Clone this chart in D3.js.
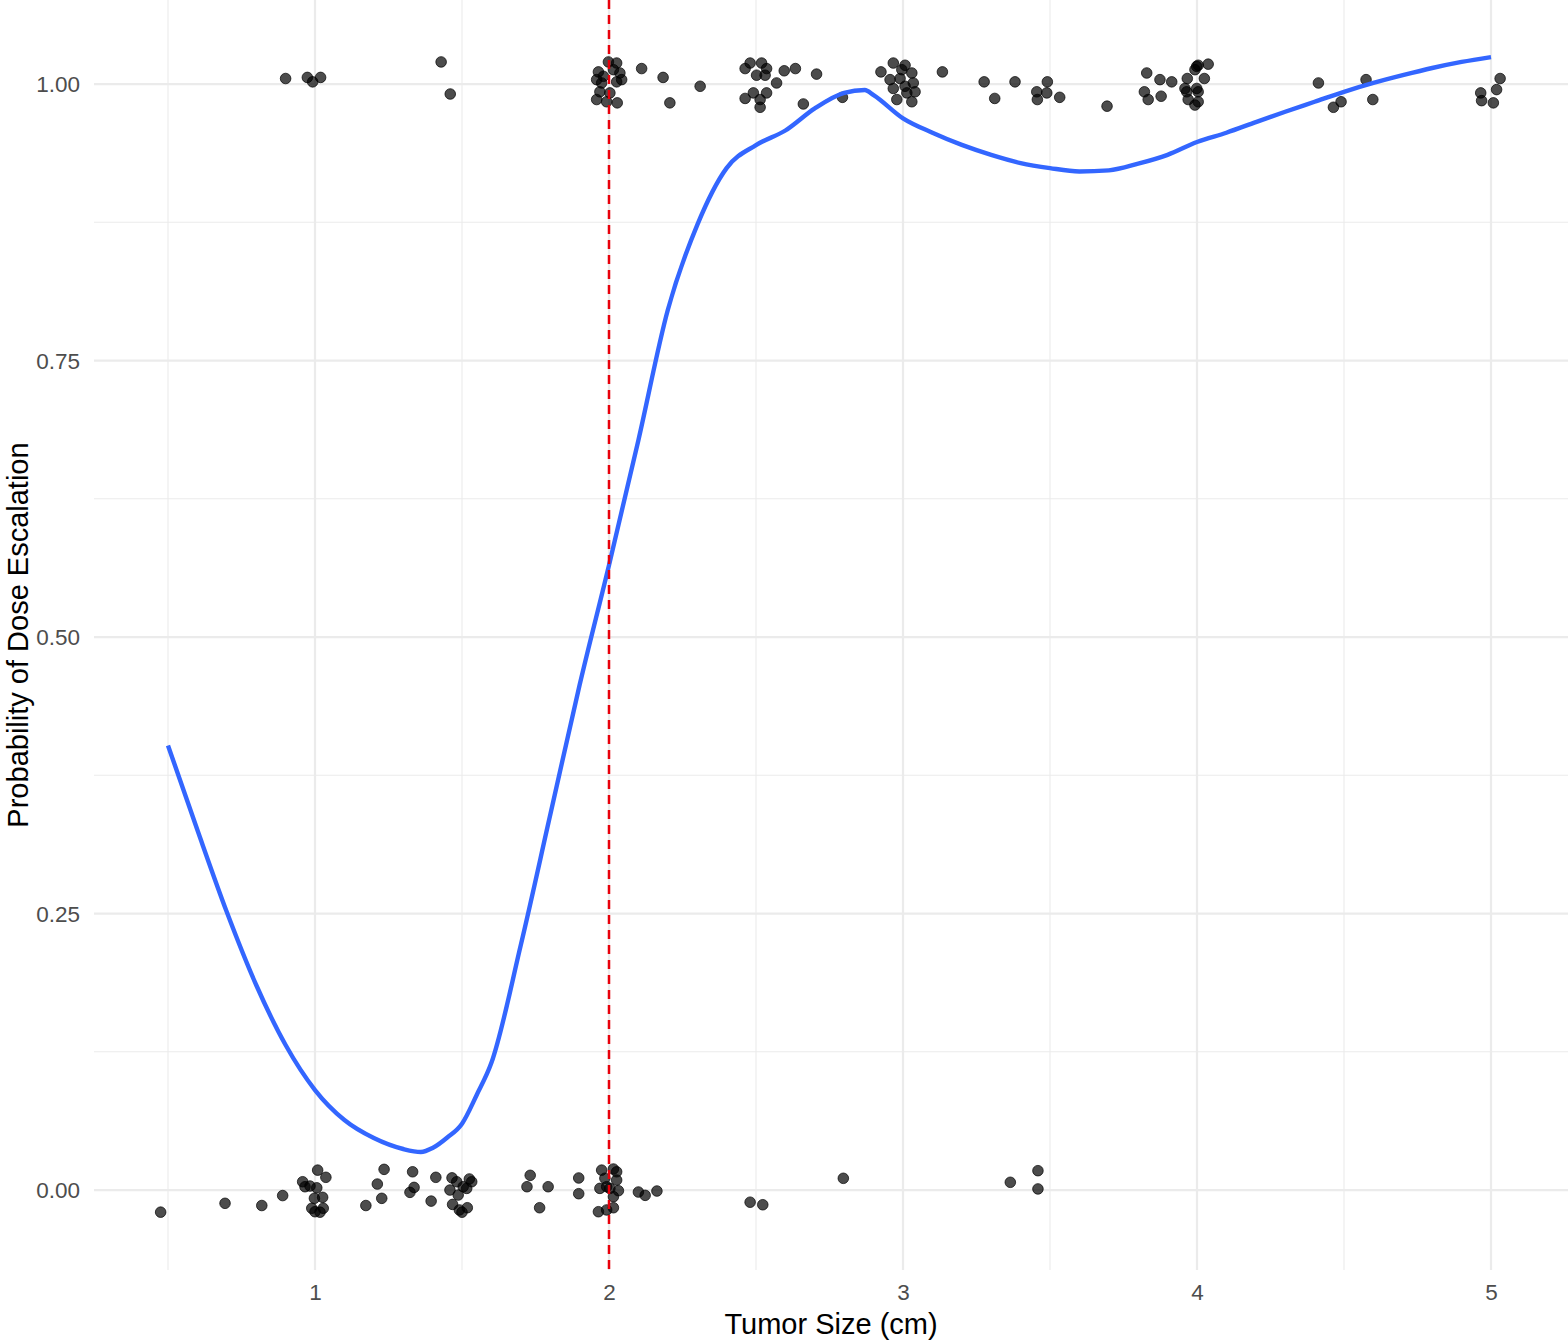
<!DOCTYPE html>
<html>
<head>
<meta charset="utf-8">
<script src="https://cdn.jsdelivr.net/npm/d3@7"></script>
<style>
  html, body { margin: 0; padding: 0; background: #fff; }
  svg { display: block; }
  text { font-family: "Liberation Sans", Arial, Helvetica, sans-serif; }
</style>
</head>
<body>
<svg id="chart" width="1568" height="1341"></svg>
<script>
// ---------- DATA ----------
// Jittered observations: tumor size (cm) and escalation outcome (0/1, jittered)
const escalatedX = [0.900,0.974,0.992,1.019,1.429,1.460,
  1.998,2.026,2.037,1.964,1.958,1.975,2.026,2.043,1.969,2.003,1.958,1.992,2.028,2.015,1.981,
  2.111,2.184,2.207,2.310,
  2.480,2.519,2.463,2.536,2.502,2.531,2.491,2.463,2.514,2.536,2.514,2.570,
  2.596,2.634,2.706,2.661,2.794,2.925,
  2.967,3.007,3.030,2.956,2.990,3.035,2.967,3.007,3.041,2.979,3.030,3.013,2.996,
  3.134,3.276,3.381,3.312,3.491,3.455,3.489,3.457,3.533,3.694,
  3.829,3.874,3.914,3.821,3.834,3.878,
  4.004,4.038,3.993,3.967,4.025,3.959,3.999,3.965,4.004,3.970,4.004,3.993,3.999,
  4.413,4.575,4.464,4.490,4.598,4.965,4.968,5.008,5.019,5.031];
const escalatedY = [1.005,1.006,1.002,1.006,1.020,0.991,
  1.020,1.019,1.010,1.011,1.004,1.001,1.002,1.004,0.993,0.992,0.986,0.984,0.983,1.013,1.007,
  1.014,1.006,0.983,0.998,
  1.019,1.019,1.014,1.014,1.008,1.008,0.992,0.987,0.986,0.992,0.979,1.001,
  1.012,1.014,1.009,0.982,0.988,1.011,
  1.019,1.017,1.010,1.004,1.005,1.001,0.996,0.998,0.993,0.986,0.984,0.992,1.013,
  1.011,1.002,1.002,0.987,1.002,0.993,0.992,0.986,0.988,0.980,
  1.010,1.004,1.002,0.993,0.986,0.989,
  1.017,1.018,1.013,1.005,1.005,0.996,0.996,0.993,0.993,0.986,0.984,0.981,1.016,
  1.001,1.004,0.979,0.984,0.986,0.992,0.985,0.983,0.995,1.005];

const notEscalatedX = [0.475,0.694,0.819,0.890,
  0.958,0.966,1.006,1.009,1.037,0.998,1.026,0.989,1.000,1.028,1.017,0.983,
  1.173,1.227,1.212,1.235,1.332,1.337,1.323,1.395,1.411,
  1.466,1.459,1.468,1.491,1.518,1.504,1.525,1.533,1.482,1.487,1.516,1.500,
  1.732,1.721,1.793,1.764,1.897,1.897,
  1.975,2.015,2.026,1.969,1.992,2.026,2.032,2.015,1.964,1.992,2.015,2.003,1.986,
  2.100,2.123,2.163,2.480,2.523,2.797,3.365,3.459,3.459];
const notEscalatedY = [-0.020,-0.012,-0.014,-0.005,
  0.0075,0.003,0.002,0.018,0.0115,-0.0075,-0.0066,-0.0165,-0.0196,-0.0165,-0.020,0.0036,
  -0.014,-0.0075,0.0054,0.0187,0.0165,0.0024,-0.0021,-0.010,0.0115,
  0.011,0.000,-0.013,-0.018,-0.016,0.003,0.010,0.0075,0.0075,-0.0045,0.0015,-0.020,
  0.0133,0.003,0.003,-0.016,0.0109,-0.0033,
  0.018,0.019,0.0165,0.0015,0.003,0.009,-0.0006,-0.006,-0.0196,-0.018,-0.016,0.0015,0.0106,
  -0.0018,-0.0048,-0.0009,-0.011,-0.0133,0.0106,0.007,0.0175,0.001];

// Smoothed probability curve
const smoothX = [0.5,0.6,0.7,0.8,0.9,1.0,1.1,1.2,1.3,1.36,1.4,1.45,1.5,1.55,1.6,1.7,1.8,1.9,2.0,2.1,2.2,2.3,2.4,2.5,2.6,2.7,2.8,2.87,2.9,3.0,3.1,3.2,3.3,3.4,3.5,3.6,3.7,3.8,3.9,4.0,4.1,4.2,4.3,4.4,4.5,4.6,4.7,4.8,4.9,5.0];
const smoothY = [0.402,0.3255,0.2514,0.1854,0.1311,0.0904,0.0633,0.047,0.0371,0.0344,0.0380,0.0475,0.0600,0.0860,0.1150,0.2215,0.339,0.4566,0.565,0.678,0.7957,0.8725,0.924,0.9448,0.958,0.978,0.992,0.9946,0.990,0.969,0.956,0.945,0.936,0.9286,0.924,0.921,0.922,0.928,0.936,0.9476,0.956,0.9656,0.975,0.984,0.993,1.001,1.008,1.0145,1.020,1.0244];

const thresholdX = [2];

const xTicks = [1,2,3,4,5];
const xMinor = [0.5,1.5,2.5,3.5,4.5];
const yTicks = [0,0.25,0.5,0.75,1];
const yMinor = [0.125,0.375,0.625,0.875];
const yTickLabels = ["0.00","0.25","0.50","0.75","1.00"];

const xTitle = "Tumor Size (cm)";
const yTitle = "Probability of Dose Escalation";

// ---------- LAYOUT ----------
const W = 1568, H = 1341;
const panel = {left: 94, right: 1568, top: 0, bottom: 1270};

const x = d3.scaleLinear().domain([0.2483, 5.2619]).range([panel.left, panel.right]);
const y = d3.scaleLinear().domain([-0.0723, 1.0760]).range([panel.bottom, panel.top]);

const svg = d3.select("#chart");
svg.append("rect").attr("width", W).attr("height", H).attr("fill", "#fff");

const grid = svg.append("g");
// minor grid
grid.selectAll("line.ymin").data(yMinor).join("line")
  .attr("x1", panel.left).attr("x2", panel.right)
  .attr("y1", d => y(d)).attr("y2", d => y(d))
  .attr("stroke", "#EBEBEB").attr("stroke-width", 1.1);
grid.selectAll("line.xmin").data(xMinor).join("line")
  .attr("y1", panel.top).attr("y2", panel.bottom)
  .attr("x1", d => x(d)).attr("x2", d => x(d))
  .attr("stroke", "#EBEBEB").attr("stroke-width", 1.1);
// major grid
grid.selectAll("line.ymaj").data(yTicks).join("line")
  .attr("x1", panel.left).attr("x2", panel.right)
  .attr("y1", d => y(d)).attr("y2", d => y(d))
  .attr("stroke", "#EBEBEB").attr("stroke-width", 2.2);
grid.selectAll("line.xmaj").data(xTicks).join("line")
  .attr("y1", panel.top).attr("y2", panel.bottom)
  .attr("x1", d => x(d)).attr("x2", d => x(d))
  .attr("stroke", "#EBEBEB").attr("stroke-width", 2.2);

// axes (labels only, theme_minimal has no axis lines/ticks)
const xAxis = d3.axisBottom(x).tickValues(xTicks).tickFormat(d3.format("d")).tickSize(0).tickPadding(0);
const gx = svg.append("g").attr("transform", `translate(0,${panel.bottom})`).call(xAxis);
gx.select(".domain").remove();
gx.selectAll("text").attr("fill", "#4D4D4D").attr("font-size", 22.5)
  .attr("dy", null).attr("y", 30)
  .style("font-family", '"Liberation Sans", Arial, sans-serif');

const yAxis = d3.axisLeft(y).tickValues(yTicks).tickFormat((d, i) => yTickLabels[i]).tickSize(0).tickPadding(0);
const gy = svg.append("g").attr("transform", `translate(${panel.left - 14},0)`).call(yAxis);
gy.select(".domain").remove();
gy.selectAll("text").attr("fill", "#4D4D4D").attr("font-size", 22.5)
  .attr("dy", "0.35em")
  .style("font-family", '"Liberation Sans", Arial, sans-serif');

// points
const pts = [];
escalatedX.forEach((v, i) => pts.push({x: v, y: escalatedY[i]}));
notEscalatedX.forEach((v, i) => pts.push({x: v, y: notEscalatedY[i]}));
svg.append("g").selectAll("circle").data(pts).join("circle")
  .attr("cx", d => x(d.x)).attr("cy", d => y(d.y)).attr("r", 5.3)
  .attr("fill", "#000").attr("fill-opacity", 0.7)
  .attr("stroke", "#000").attr("stroke-opacity", 0.7).attr("stroke-width", 1);

// smooth curve
const curve = smoothX.map((v, i) => [v, smoothY[i]]);
svg.append("path").datum(curve)
  .attr("d", d3.line().x(d => x(d[0])).y(d => y(d[1])).curve(d3.curveMonotoneX))
  .attr("fill", "none").attr("stroke", "#3366FF").attr("stroke-width", 4.4)
  .attr("stroke-linejoin", "round");

// threshold line
svg.append("g").selectAll("line").data(thresholdX).join("line")
  .attr("x1", d => x(d)).attr("x2", d => x(d))
  .attr("y1", panel.top).attr("y2", panel.bottom)
  .attr("stroke", "#E8000B").attr("stroke-width", 2.5)
  .attr("stroke-dasharray", "9,6");

// titles
svg.append("text").attr("x", (panel.left + panel.right) / 2).attr("y", 1334)
  .attr("text-anchor", "middle").attr("font-size", 29).attr("fill", "#000").text(xTitle);
svg.append("text")
  .attr("transform", `translate(28,${(panel.top + panel.bottom) / 2}) rotate(-90)`)
  .attr("text-anchor", "middle").attr("font-size", 29).attr("fill", "#000").text(yTitle);
</script>
</body>
</html>
